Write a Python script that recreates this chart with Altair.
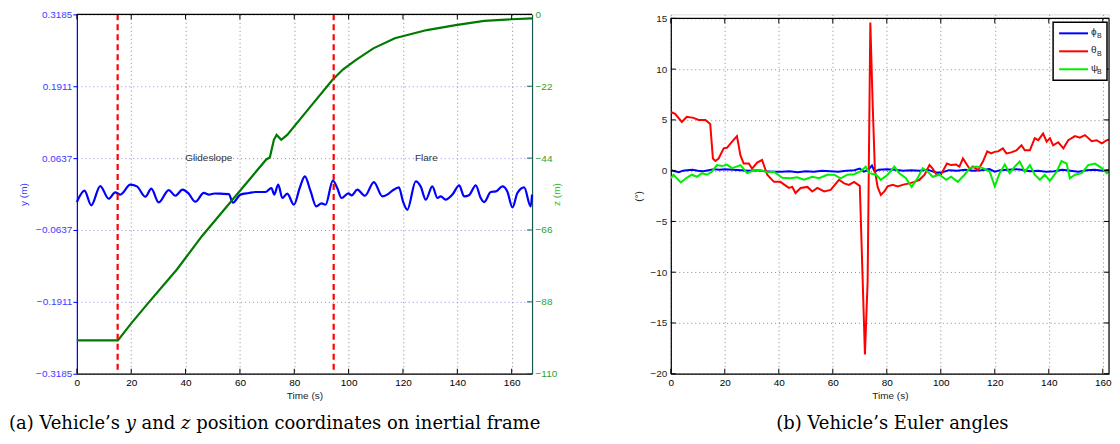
import altair as alt
import pandas as pd

# ---------------- Panel (a): y and z position ----------------
t_y = [0, 2.8, 5.3, 8.6, 11.7, 14.1, 16.0, 19.7, 22.1, 25.2, 27.4, 30.1, 33.8, 36.2, 38.9,
       40.9, 43.6, 46.7, 48.6, 50.7, 52.8, 55.9, 57.4, 60.2, 63.3, 65.7, 69.4, 71.6, 72.6, 74.1,
       75.6, 77.4, 79.9, 82.0, 83.9, 86.0, 88.1, 90.0, 91.5, 94.2, 95.8, 97.4, 99.9, 101.1, 103.2,
       106.0, 109.3, 112.4, 114.2, 116.1, 118.5, 120.0, 121.6, 124.7, 126.5, 128.4, 130.8, 132.7,
       133.9, 135.7, 138.2, 140.7, 142.5, 144.3, 146.8, 148.6, 149.9, 152.3, 154.2, 156.6, 158.4,
       160.3, 162.1, 164.6, 167.0, 167.5]
y_vals = [-0.0142, 0.0059, -0.0200, 0.0142, -0.0083, 0.0030, -0.0010, 0.0166, 0.0136, -0.0047,
          0.0095, -0.0148, 0.0071, -0.0030, 0.0077, 0.0020, -0.0136, 0.0020, -0.0010, 0.0010,
          0.0006, 0.0000, -0.0154, -0.0010, 0.0018, 0.0036, 0.0036, 0.0107, -0.0010, 0.0166,
          -0.0070, 0.0006, -0.0190, 0.0107, 0.0314, 0.0050, -0.0220, -0.0166, -0.0190, 0.0237,
          0.0107, -0.0070, 0.0012, -0.0024, 0.0077, -0.0030, 0.0213, -0.0041, -0.0010, 0.0060,
          0.0119, -0.0130, -0.0279, 0.0225, 0.0136, -0.0100, 0.0136, -0.0070, -0.0040, -0.0100,
          -0.0010, 0.0154, -0.0040, -0.0020, 0.0154, -0.0070, -0.0142, 0.0036, 0.0047, 0.0136,
          0.0047, -0.0237, 0.0018, 0.0119, -0.0220, -0.0010]

t_z = [0, 15.1, 20.0, 26.3, 36.8, 46.0, 57.8, 69.7, 71.0, 72.5, 73.5, 75.2, 77.4, 85.5,
       94.0, 98.0, 102.6, 109.1, 117.0, 128.8, 139.4, 149.9, 160.0, 167.5]
z_vals = [-99.8, -99.8, -94.6, -88.3, -78.1, -67.9, -56.2, -44.4, -43.8, -38.4, -36.9, -38.4,
          -36.9, -28.7, -20.1, -16.8, -14.0, -10.4, -7.3, -4.8, -3.3, -2.0, -1.5, -1.2]

phase_t = [15.0, 94.5]
phase_labels = ["Glideslope", "Flare"]
phase_label_t = [48.5, 128.6]
phase_label_y = [0.0637, 0.0637]

y_ticks = [-0.3185, -0.1911, -0.0637, 0.0637, 0.1911, 0.3185]
z_ticks = [-110, -88, -66, -44, -22, 0]
x_ticks = [0, 20, 40, 60, 80, 100, 120, 140, 160]

caption_a = "(a) Vehicle’s 𝑦 and 𝑧 position coordinates on inertial frame"
caption_b = "(b) Vehicle’s Euler angles"

# ---------------- Panel (b): Euler angles ----------------
t_phi = [0, 1.5, 3, 4.5, 6, 8, 10, 12, 14, 16, 18, 20, 23, 26, 29, 32, 35, 38, 41, 44, 47, 50,
         53, 56, 59, 62, 65, 68, 70, 71.5, 73, 74.5, 75.5, 77, 80, 83, 86, 89, 92, 95, 98, 100,
         103, 106, 109, 112, 115, 118, 120, 122, 125, 128, 130, 133, 136, 139, 142, 145, 148,
         151, 154, 157, 160, 163, 166]
phi_vals = [0.05, -0.05, -0.15, 0.0, 0.05, 0.1, 0.0, -0.05, 0.05, 0.15, 0.1, 0.15, 0.1, 0.05,
            0.0, 0.05, -0.05, -0.1, -0.1, -0.05, -0.15, -0.05, -0.1, 0.0, -0.05, -0.1, 0.0,
            0.05, 0.2, -0.1, 0.05, 0.5, -0.1, 0.1, 0.15, 0.1, 0.0, 0.05, 0.0, 0.1, -0.15, -0.2,
            0.05, 0.0, 0.1, 0.0, 0.05, 0.15, -0.1, 0.05, 0.1, 0.15, 0.1, -0.05, 0.0, -0.1, -0.05,
            0.1, 0.0, -0.1, 0.05, 0.1, 0.0, 0.1, 0.15]

t_theta = [0, 1.6, 4.1, 5.9, 8.4, 10.3, 12.8, 14.6, 15.6, 16.5, 17.7, 19.6, 20.8, 22.7, 24.5,
           25.8, 27.0, 28.9, 30.1, 32.0, 33.8, 35.7, 38.2, 40.6, 43.7, 45.0, 46.2, 48.1, 50.6,
           52.4, 54.3, 56.8, 59.2, 62.3, 64.2, 66.0, 67.9, 70.0, 71.0, 71.9, 72.9, 73.9, 74.7,
           75.6, 76.6, 77.8, 79.1, 80.3, 82.2, 84.0, 86.5, 88.4, 90.2, 92.1, 94.0, 95.8, 97.0,
           98.3, 100.1, 102.3, 103.8, 105.7, 106.9, 108.2, 109.4, 110.7, 111.9, 113.8, 115.6,
           117.2, 118.7, 119.9, 121.2, 123.0, 124.3, 126.1, 128.0, 129.9, 131.1, 133.0, 134.8,
           136.1, 137.9, 139.2, 140.4, 141.6, 143.5, 145.4, 147.2, 149.7, 151.5, 153.4, 155.9,
           157.7, 159.6, 161.5, 164.0, 166.0]
theta_vals = [5.78, 5.6, 4.8, 5.3, 5.2, 5.0, 5.0, 4.6, 1.2, 0.95, 1.2, 2.2, 2.25, 2.85, 3.4,
              1.5, 0.7, 0.7, 0.2, 0.8, 1.05, -0.4, -1.1, -1.1, -1.7, -1.6, -2.2, -1.7, -1.6,
              -2.05, -1.7, -2.05, -1.9, -0.9, -1.25, -1.4, -1.1, -1.5, -10.2, -18.1, -10.9, 14.6,
              7.1, 0.0, -1.6, -2.4, -2.05, -1.55, -1.4, -1.55, -1.35, -1.25, -1.1, -0.9, -0.4,
              0.55, 0.2, -0.35, -0.35, 0.7, 0.55, 0.6, 0.4, 1.2, 0.7, 0.15, 0.4, 0.05, 0.9, 1.9,
              1.7, 1.85, 1.9, 2.2, 1.7, 1.8, 2.0, 2.5, 2.0, 2.0, 3.2, 3.0, 3.65, 2.85, 3.2, 2.5,
              2.8, 2.2, 3.0, 3.4, 3.25, 3.5, 2.9, 3.0, 2.7, 3.0, 3.2, 3.65]

t_psi = [0, 1.0, 3.7, 5.9, 7.8, 9.7, 11.5, 13.4, 15.2, 17.1, 19.0, 20.8, 22.7, 25.8, 28.3,
         30.7, 33.2, 35.7, 38.2, 41.3, 44.4, 46.8, 49.3, 52.4, 54.9, 58.0, 60.5, 62.9, 65.4,
         67.9, 70.4, 72.2, 73.5, 76.0, 77.8, 80.3, 82.8, 84.6, 87.1, 89.2, 91.4, 93.3, 95.2,
         97.0, 99.5, 102.0, 103.8, 106.3, 108.8, 110.7, 113.1, 115.6, 118.1, 120.0, 121.8,
         123.7, 125.5, 127.4, 129.2, 131.1, 133.0, 134.8, 136.7, 138.5, 140.4, 142.9, 144.7,
         146.6, 147.8, 149.7, 152.2, 154.6, 157.1, 159.6, 161.5, 164.0, 165.0, 166.0]
psi_vals = [-0.75, -0.4, -1.15, -0.7, -0.4, -0.6, -0.25, -0.4, -0.1, 0.55, 0.45, 0.6, 0.25,
            0.55, -0.25, 0.05, 0.05, -0.15, -0.1, -0.7, -0.75, -0.65, -0.9, -0.6, -0.75, -0.4,
            -0.4, -0.75, -0.4, -0.35, -0.05, 0.4, -0.25, -0.4, -0.9, -0.4, 0.4, -0.25, -0.75,
            -1.6, -0.75, 0.25, -0.1, -0.6, -0.4, -0.9, -0.6, -1.1, -0.4, 0.25, 0.4, 0.25, -0.1,
            -1.55, -0.25, 0.6, -0.25, 0.4, 0.9, -0.1, 0.55, -0.4, -0.9, -0.4, -1.0, -0.1, 0.95,
            0.7, -0.75, -0.4, -0.25, 0.55, 0.7, 0.25, -0.25, 0.55, -1.0, 0.4]

euler_ticks = [-20, -15, -10, -5, 0, 5, 10, 15]
legend_symbols = ["ϕ", "θ", "ψ"]
legend_sub = ["B", "B", "B"]
legend_colors = ["#0000ff", "#ff0000", "#00ee00"]

# ---------------- styling ----------------
FONT = "Liberation Sans"
W1, W2, H = 456, 439, 360
X1_MAX, X2_MAX = 167.5, 162.3
BLUE_TXT = "#3c3cff"
GREEN_TXT = "#2ea02e"
GRID_GRAY = "#8a8a8a"
CAP_FONT = "DejaVu Serif"
CAP_SIZE = 18
CAP_Y = 410

one = pd.DataFrame({"k": [0]})


def x_enc(xmax):
    return alt.X(
        "t:Q", title="Time (s)",
        scale=alt.Scale(domain=[0, xmax], nice=False, zero=False),
        axis=alt.Axis(values=x_ticks, grid=True, gridColor=GRID_GRAY, gridDash=[1, 3],
                      gridWidth=1, domainColor="black", domainWidth=1.2, tickSize=0,
                      labelPadding=4, labelFontSize=10, labelColor="black", labelFont=FONT,
                      labelFlush=False, labelOverlap=False, titleFont=FONT, titleFontSize=10,
                      titleFontWeight="normal", titleColor="#222", titlePadding=3),
    )


# ---- panel (a) ----
xa = x_enc(X1_MAX)
y_scale = alt.Scale(domain=[-0.3185, 0.3185], nice=False, zero=False)
y_axis = alt.Axis(orient="left", values=y_ticks, format=".4f", grid=True, gridColor="#8c8cff",
                  gridDash=[1, 3], gridWidth=1, domainColor="#0000ff", domainWidth=1.2,
                  tickColor="#0000ff", tickSize=4, labelPadding=1, labelColor=BLUE_TXT,
                  labelFont=FONT, labelFontSize=10, title="y (m)", titleColor=BLUE_TXT,
                  titleFont=FONT, titleFontSize=10, titleFontWeight="normal", titlePadding=7)
z_scale = alt.Scale(domain=[-110, 0], nice=False, zero=False)
z_axis = alt.Axis(orient="right", values=z_ticks, grid=False, domainColor="#1b5a50",
                  domainWidth=1.2, tickSize=0, labelPadding=3, labelColor=GREEN_TXT,
                  labelFont=FONT, labelFontSize=10, title="z (m)", titleColor="#33bb33",
                  titleFont=FONT, titleFontSize=10, titleFontWeight="normal", titlePadding=5,
                  titleAngle=270)

df_y = pd.DataFrame({"t": t_y, "y": y_vals})
df_z = pd.DataFrame({"t": t_z, "z": z_vals})
df_phase = pd.DataFrame({"t": phase_t})
df_plab = pd.DataFrame({"t": phase_label_t, "y": phase_label_y, "label": phase_labels})
df_xt = pd.DataFrame({"t": x_ticks})
df_zt = pd.DataFrame({"z": z_ticks})

yenc = alt.Y("y:Q", scale=y_scale, axis=y_axis)
zenc = alt.Y("z:Q", scale=z_scale, axis=z_axis)

blue = alt.Chart(df_y).mark_line(color="#0000ff", strokeWidth=2.2, interpolate="monotone").encode(x=xa, y=yenc)
plab = alt.Chart(df_plab).mark_text(font=FONT, fontSize=10, color="#333333").encode(x=xa, y=yenc, text="label:N")
layer_y = alt.layer(blue, plab)

green = alt.Chart(df_z).mark_line(color="#007a00", strokeWidth=2.2).encode(x=xa, y=zenc)
z_in_ticks = alt.Chart(df_zt).mark_rule(color="#1b5a50", strokeWidth=1).encode(
    y=zenc, x=alt.value(W1 - 5), x2=alt.value(W1))
layer_z = alt.layer(green, z_in_ticks)

red = alt.Chart(df_phase).mark_rule(color="#ff0000", strokeWidth=2.2, strokeDash=[6, 4]).encode(x=xa)
xt_bot_a = alt.Chart(df_xt).mark_rule(color="black").encode(x=xa, y=alt.value(H), y2=alt.value(H - 5))
xt_top_a = alt.Chart(df_xt).mark_rule(color="black").encode(x=xa, y=alt.value(0), y2=alt.value(5))
top_a = alt.Chart(one).mark_rule(color="black", strokeWidth=1.2).encode(
    x=alt.value(0), x2=alt.value(W1), y=alt.value(0))
cap_a = alt.Chart(one).mark_text(font=CAP_FONT, fontSize=CAP_SIZE, align="left",
                                 baseline="middle", color="black", text=caption_a).encode(
    x=alt.value(-68), y=alt.value(CAP_Y))

panel_a = alt.layer(layer_y, layer_z, red, xt_bot_a, xt_top_a, top_a, cap_a).resolve_scale(
    y="independent").properties(width=W1, height=H)

# ---- panel (b) ----
xb = x_enc(X2_MAX)
e_scale = alt.Scale(domain=[-20, 15], range=[H, 4], nice=False, zero=False)
e_axis = alt.Axis(values=euler_ticks, grid=True, gridColor=GRID_GRAY, gridDash=[1, 3],
                  gridWidth=1, domainColor="black", domainWidth=1.2, tickSize=0,
                  labelPadding=4, labelColor="#222", labelFont=FONT, labelFontSize=10,
                  title="(°)", titleColor="#222", titleFont=FONT, titleFontSize=10,
                  titleFontWeight="normal", titlePadding=6)
eenc = alt.Y("v:Q", scale=e_scale, axis=e_axis)

df_phi = pd.DataFrame({"t": t_phi, "v": phi_vals})
df_theta = pd.DataFrame({"t": t_theta, "v": theta_vals})
df_psi = pd.DataFrame({"t": t_psi, "v": psi_vals})
df_et = pd.DataFrame({"v": euler_ticks})

l_phi = alt.Chart(df_phi).mark_line(color=legend_colors[0], strokeWidth=2, clip=True).encode(x=xb, y=eenc)
l_theta = alt.Chart(df_theta).mark_line(color=legend_colors[1], strokeWidth=2, clip=True).encode(x=xb, y=eenc)
l_psi = alt.Chart(df_psi).mark_line(color=legend_colors[2], strokeWidth=2, clip=True).encode(x=xb, y=eenc)

et_left = alt.Chart(df_et).mark_rule(color="black").encode(y=eenc, x=alt.value(0), x2=alt.value(5))
et_right = alt.Chart(df_et).mark_rule(color="black").encode(y=eenc, x=alt.value(W2 - 5), x2=alt.value(W2))
xt_bot_b = alt.Chart(df_xt).mark_rule(color="black").encode(x=xb, y=alt.value(H), y2=alt.value(H - 5))
xt_top_b = alt.Chart(df_xt).mark_rule(color="black").encode(x=xb, y=alt.value(4), y2=alt.value(9))
top_b = alt.Chart(one).mark_rule(color="black", strokeWidth=1.2).encode(
    x=alt.value(0), x2=alt.value(W2), y=alt.value(4))
right_b = alt.Chart(one).mark_rule(color="black", strokeWidth=1.2).encode(
    x=alt.value(W2), y=alt.value(4), y2=alt.value(H))

LX = W2 - 56
leg_box = alt.Chart(one).mark_rect(fill="white", stroke="black", strokeWidth=1.5).encode(
    x=alt.value(LX), x2=alt.value(LX + 54), y=alt.value(8), y2=alt.value(66))
leg_layers = [leg_box]
for i, (sym, sub, col) in enumerate(zip(legend_symbols, legend_sub, legend_colors)):
    yy = 19 + 18 * i
    leg_layers.append(alt.Chart(one).mark_rule(color=col, strokeWidth=2).encode(
        x=alt.value(LX + 6), x2=alt.value(LX + 35), y=alt.value(yy)))
    leg_layers.append(alt.Chart(one).mark_text(font=FONT, fontSize=10, align="left",
                                               baseline="middle", color="#222", text=sym).encode(
        x=alt.value(LX + 38), y=alt.value(yy - 1)))
    leg_layers.append(alt.Chart(one).mark_text(font=FONT, fontSize=7, align="left",
                                               baseline="middle", color="#222", text=sub).encode(
        x=alt.value(LX + 44), y=alt.value(yy + 3)))

cap_b = alt.Chart(one).mark_text(font=CAP_FONT, fontSize=CAP_SIZE, align="center",
                                 baseline="middle", color="black", text=caption_b).encode(
    x=alt.value(222), y=alt.value(CAP_Y))

panel_b = alt.layer(l_phi, l_theta, l_psi, et_left, et_right, xt_bot_b, xt_top_b, top_b,
                    right_b, *leg_layers, cap_b).properties(width=W2, height=H)

chart = alt.hconcat(panel_a, panel_b, spacing=139, bounds="flush").properties(
    padding={"left": 0, "top": 0, "right": 0, "bottom": 0}
).configure_view(strokeWidth=0).configure(font=FONT)

chart.save("out.html", embed_options={"renderer": "svg", "actions": False})
